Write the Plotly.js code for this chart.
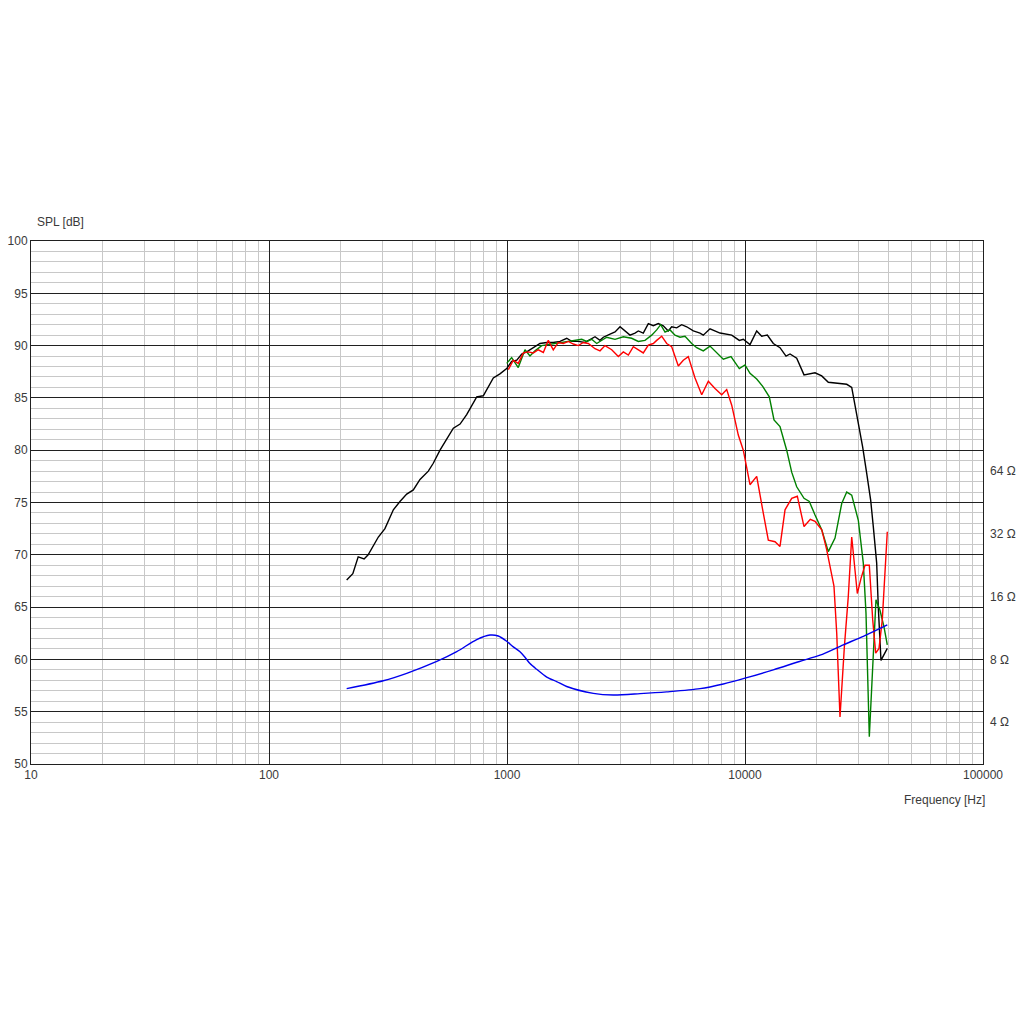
<!DOCTYPE html>
<html>
<head>
<meta charset="utf-8">
<script src="https://cdn.plot.ly/plotly-3.0.1.min.js"></script>
<style>
    body { margin: 0; background: #fff; }
    #splchart { width: 1024px; height: 1024px; }
</style>
</head>
<body>
<div id="splchart"></div>
<script>
// black curve (on axis)
var freqBlack = [212, 225, 237, 251, 261, 274, 288, 307, 333, 355, 379, 404, 431, 467, 490, 523, 558, 595, 635, 677,
    746, 795, 876, 934, 997, 1046, 1099, 1153, 1210, 1290, 1376, 1469, 1565, 1670, 1782, 1870, 1994, 2127, 2269, 2343,
    2459, 2539, 2710, 2844, 2985, 3132, 3287, 3450, 3562, 3738, 3924, 4118, 4322, 4536, 4760, 4920, 5164, 5420, 5689, 6066,
    6471, 6679, 7128, 7852, 8794, 9465, 9838, 10496, 11199, 11754, 12411, 13151, 14030, 14870, 15460, 16490, 17700, 19690,
    21010, 22390, 24290, 26760, 28080, 29470, 31220, 32450, 33740, 34600, 35750, 36310, 36910, 37270, 39620];
var splBlack = [67.6, 68.2, 69.8, 69.6, 70.0, 70.9, 71.7, 72.5, 74.3, 75.1, 75.8, 76.2, 77.2, 78.0, 78.75, 80.0, 81.0, 82.1, 82.5, 83.4,
    85.1, 85.2, 86.9, 87.3, 87.8, 88.5, 88.6, 89.2, 89.4, 89.8, 90.2, 90.3, 90.3, 90.4, 90.7, 90.4, 90.4, 90.3, 90.7, 90.85,
    90.5, 90.8, 91.1, 91.3, 91.8, 91.4, 91.0, 91.2, 91.4, 91.2, 92.1, 91.9, 92.1, 91.9, 91.4, 91.8, 91.7, 92.0, 91.8, 91.4,
    91.2, 91.0, 91.6, 91.2, 91.0, 90.5, 90.6, 90.1, 91.4, 90.9, 91.0, 90.2, 89.8, 89.0, 89.2, 88.8, 87.2, 87.4,
    87.1, 86.5, 86.4, 86.3, 86.0, 83.5, 80.3, 77.8, 75.2, 72.7, 69.2, 65.0, 62.2, 59.9, 61.05];

// green curve
var freqGreen = [997, 1046, 1115, 1190, 1249, 1311, 1399, 1491, 1591, 1698, 1810, 1931, 2061, 2162, 2269, 2382, 2500, 2624,
    2844, 3082, 3341, 3562, 3800, 4055, 4256, 4424, 4613, 4841, 5081, 5333, 5597, 5970, 6268, 6679, 7128, 7604, 8106, 8733,
    9465, 10000, 10496, 11199, 11868, 12650, 13240, 14030, 14970, 15710, 16490, 17700, 18630, 19690, 21010, 22390, 23890,
    25490, 26760, 28080, 29930, 31410, 32240, 33290, 34070, 35510, 36910, 38370, 39620];
var splGreen = [88.3, 88.85, 87.9, 89.6, 89.0, 89.5, 90.0, 90.1, 90.15, 90.3, 90.4, 90.5, 90.6, 90.4, 90.6, 90.2, 90.5, 90.8,
    90.6, 90.85, 90.7, 90.4, 90.5, 91.0, 91.5, 92.0, 91.3, 91.5, 91.0, 90.8, 90.9, 90.2, 89.8, 89.5, 89.95, 89.3, 88.7, 88.95,
    87.8, 88.15, 87.35, 86.8, 86.1, 85.1, 82.9, 82.25, 80.0, 77.9, 76.5, 75.4, 75.1, 73.8, 72.4, 70.3, 71.6,
    74.9, 76.0, 75.7, 73.3, 69.2, 64.4, 52.6, 57.4, 65.7, 64.7, 63.1, 61.4];

// red curve
var freqRed = [1013, 1063, 1115, 1171, 1229, 1290, 1354, 1421, 1491, 1565, 1643, 1724, 1810, 1900, 1994, 2093, 2196, 2343,
    2459, 2581, 2754, 2936, 3082, 3235, 3395, 3562, 3738, 3924, 4118, 4256, 4467, 4688, 4920, 5245, 5505, 5778, 6166, 6579,
    7013, 7480, 7982, 8377, 8794, 9372, 9838, 10496, 11199, 11868, 12530, 13370, 14030, 14730, 15710, 16590, 17700, 18810,
    19690, 21010, 22040, 23130, 23650, 24290, 25070, 26150, 27160, 28080, 28710, 29640, 30720, 31930, 33290, 34400, 35410,
    36560, 37750, 39620];
var splRed = [87.7, 88.6, 88.3, 89.3, 89.4, 89.3, 89.6, 89.35, 90.5, 89.6, 90.3, 90.2, 90.4, 90.15, 90.0, 90.3, 90.2, 89.7,
    89.5, 90.0, 89.6, 88.95, 89.4, 89.1, 89.9, 89.6, 89.3, 90.05, 90.2, 90.5, 90.9, 90.2, 89.9, 88.05, 88.6, 88.95, 86.9, 85.3,
    86.6, 85.9, 85.3, 85.8, 84.3, 81.45, 80.0, 76.7, 77.5, 74.3, 71.4, 71.25, 70.8, 74.3, 75.4, 75.6, 72.7, 73.4,
    73.2, 72.4, 70.5, 68.1, 67.0, 62.5, 54.5, 61.2, 66.0, 71.7, 69.3, 66.3, 67.75, 69.0, 69.0, 63.8, 60.6,
    61.05, 63.8, 72.2];

// impedance (ohm)
var freqImp = [212, 302, 379, 507, 615, 746, 848, 919, 997, 1063, 1134, 1190, 1249, 1333, 1469, 1617, 1782, 2305, 2797, 3622,
    4688, 6471, 8106, 10000, 13151, 16940, 20660, 25880, 31410, 39620];
var impOhm = [5.79, 6.32, 6.86, 7.82, 8.71, 9.96, 10.47, 10.36, 9.78, 9.19, 8.71, 8.19, 7.64, 7.17, 6.58, 6.26, 5.93, 5.50, 5.40,
    5.48, 5.59, 5.79, 6.10, 6.50, 7.13, 7.82, 8.38, 9.40, 10.32, 11.71];

var ohmTicks = [4, 8, 16, 32, 64];
var ohmLabels = ['4 Ω', '8 Ω', '16 Ω', '32 Ω', '64 Ω'];

// right axis: 8 ohm sits on 60 dB, one doubling = 6 dB
var ohmLow = 8 * Math.pow(2, (50 - 60) / 6);
var ohmHigh = 8 * Math.pow(2, (100 - 60) / 6);

var textFont = { family: 'Liberation Sans, Arial, sans-serif', size: 12, color: '#3a3a3a' };

function splTrace(xs, ys, colour) {
    return {
        x: xs, y: ys,
        type: 'scatter', mode: 'lines',
        line: { color: colour, width: 1.4 },
        hoverinfo: 'skip'
    };
}

var blue = {
    x: freqImp, y: impOhm,
    yaxis: 'y2',
    type: 'scatter', mode: 'lines',
    line: { color: '#0000ee', width: 1.4, shape: 'spline', smoothing: 0.8 },
    hoverinfo: 'skip'
};

var data = [
    splTrace(freqBlack, splBlack, '#000000'),
    splTrace(freqGreen, splGreen, '#008000'),
    splTrace(freqRed, splRed, '#ff0000'),
    blue
];

var layout = {
    width: 1024, height: 1024,
    margin: { l: 31, r: 41, t: 241, b: 260 },
    paper_bgcolor: '#ffffff', plot_bgcolor: '#ffffff',
    showlegend: false,
    font: textFont,
    xaxis: {
        type: 'log', range: [1, 5],
        tickvals: [10, 100, 1000, 10000, 100000],
        ticktext: ['10', '100', '1000', '10000', '100000'],
        ticks: '', tickfont: textFont,
        showgrid: true, gridcolor: '#202020', gridwidth: 1,
        minor: { dtick: 'D1', showgrid: true, gridcolor: '#c8c8c8', gridwidth: 1, ticks: '' },
        showline: true, linecolor: '#202020', linewidth: 1, mirror: true,
        zeroline: false, fixedrange: true
    },
    yaxis: {
        range: [50, 100], dtick: 5,
        ticks: '', tickfont: textFont,
        showgrid: true, gridcolor: '#202020', gridwidth: 1,
        minor: { dtick: 1, showgrid: true, gridcolor: '#c8c8c8', gridwidth: 1, ticks: '' },
        showline: true, linecolor: '#202020', linewidth: 1, mirror: true,
        zeroline: false, fixedrange: true
    },
    yaxis2: {
        type: 'log', overlaying: 'y', side: 'right',
        range: [Math.log10(ohmLow), Math.log10(ohmHigh)],
        tickvals: ohmTicks, ticktext: ohmLabels,
        ticks: '', tickfont: textFont, ticklabelstandoff: 6,
        showgrid: false, zeroline: false, showline: false, fixedrange: true
    },
    annotations: [
        {
            text: 'SPL [dB]', xref: 'paper', yref: 'paper',
            x: 0.004, y: 1.036, xanchor: 'left', yanchor: 'middle',
            showarrow: false, font: textFont
        },
        {
            text: 'Frequency [Hz]', xref: 'paper', yref: 'paper',
            x: 1.004, y: -0.069, xanchor: 'right', yanchor: 'middle',
            showarrow: false, font: textFont
        }
    ]
};

Plotly.newPlot('splchart', data, layout, { displayModeBar: false, staticPlot: true });
</script>
</body>
</html>
